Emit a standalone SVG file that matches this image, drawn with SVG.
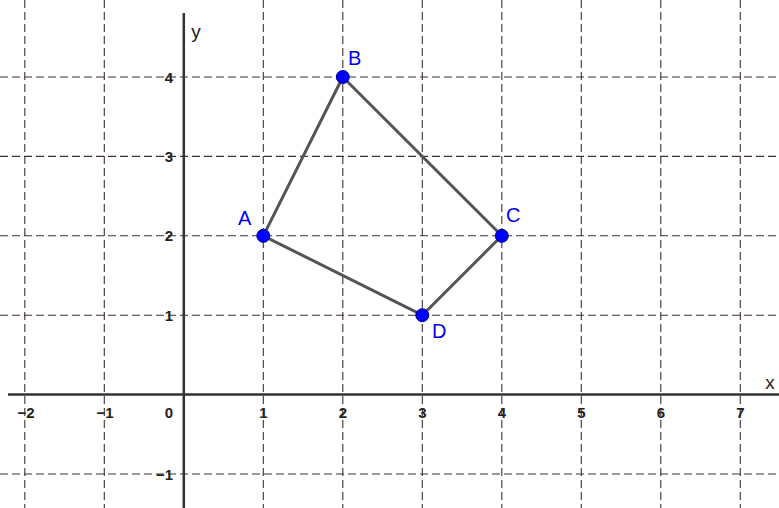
<svg xmlns="http://www.w3.org/2000/svg" width="779" height="508" viewBox="0 0 779 508">
<style>
.grid{stroke:#3f3030;stroke-width:1.1;stroke-dasharray:8,4;fill:none}
.axis{stroke:#333;stroke-width:2.5;fill:none}
.num{font-family:"Liberation Sans",Arial,sans-serif;font-size:15px;font-weight:bold;fill:#222}
.ax{font-family:"Liberation Sans",Arial,sans-serif;font-size:19px;fill:#222}
.lab{font-family:"Liberation Sans",Arial,sans-serif;font-size:20px;fill:#0000ee}
.edge{stroke:#555;stroke-width:3;fill:none;stroke-linejoin:round}
.pt{fill:#0000ff;stroke:#00008a;stroke-width:1}
</style>
<rect width="779" height="508" fill="#fff"/>
<g id="grid">
<line class="grid" x1="24.8" y1="0" x2="24.8" y2="508"/>
<line class="grid" x1="104.3" y1="0" x2="104.3" y2="508"/>
<line class="grid" x1="263.3" y1="0" x2="263.3" y2="508"/>
<line class="grid" x1="342.8" y1="0" x2="342.8" y2="508"/>
<line class="grid" x1="422.3" y1="0" x2="422.3" y2="508"/>
<line class="grid" x1="501.8" y1="0" x2="501.8" y2="508"/>
<line class="grid" x1="581.3" y1="0" x2="581.3" y2="508"/>
<line class="grid" x1="660.8" y1="0" x2="660.8" y2="508"/>
<line class="grid" x1="740.3" y1="0" x2="740.3" y2="508"/>
<line class="grid" x1="0" y1="77" x2="779" y2="77"/>
<line class="grid" x1="0" y1="156.4" x2="779" y2="156.4"/>
<line class="grid" x1="0" y1="235.8" x2="779" y2="235.8"/>
<line class="grid" x1="0" y1="315.2" x2="779" y2="315.2"/>
<line class="grid" x1="0" y1="474" x2="779" y2="474"/>
</g>
<g id="axes">
<line class="axis" x1="8" y1="394.6" x2="779" y2="394.6"/>
<line class="axis" x1="183.8" y1="13" x2="183.8" y2="508"/>
<text class="ax" x="770" y="389" text-anchor="middle">x</text>
<text class="ax" x="196" y="38" text-anchor="middle">y</text>
<g class="num" text-anchor="middle">
<text x="26" y="418">−2</text>
<text x="105" y="418">−1</text>
<text x="169" y="418">0</text>
<text x="263.3" y="418">1</text>
<text x="342.8" y="418">2</text>
<text x="422.3" y="418">3</text>
<text x="501.8" y="418">4</text>
<text x="581.3" y="418">5</text>
<text x="660.8" y="418">6</text>
<text x="740.3" y="418">7</text>
</g>
<g class="num" text-anchor="end">
<text x="173" y="82.5">4</text>
<text x="173" y="162">3</text>
<text x="173" y="241.3">2</text>
<text x="173" y="320.7">1</text>
<text x="173" y="479.5">−1</text>
</g>
</g>
<g id="connectors">
<polygon class="edge" points="263.3,235.8 342.8,77 501.8,235.8 422.3,315.2"/>
</g>
<g id="A"><circle class="pt" cx="263.3" cy="235.8" r="6.5"/><text class="lab" x="238" y="225">A</text></g>
<g id="B"><circle class="pt" cx="342.8" cy="77" r="6.5"/><text class="lab" x="348" y="65">B</text></g>
<g id="C"><circle class="pt" cx="501.8" cy="235.8" r="6.5"/><text class="lab" x="506" y="222">C</text></g>
<g id="D"><circle class="pt" cx="422.3" cy="315.2" r="6.5"/><text class="lab" x="432" y="338">D</text></g>
</svg>
